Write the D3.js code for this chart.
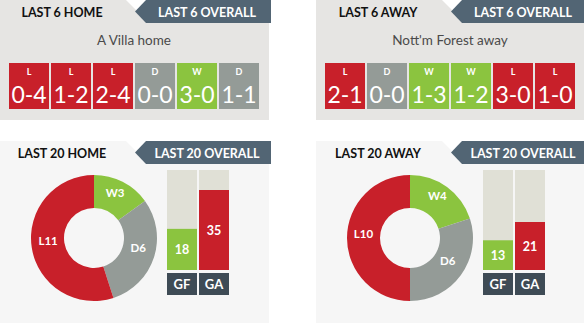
<!DOCTYPE html>
<html>
<head>
<meta charset="utf-8">
<script src="https://cdn.jsdelivr.net/npm/d3@7/dist/d3.min.js"></script>
<style>
  html, body { margin: 0; padding: 0; background: #fff; }
  svg { display: block; font-family: Lato, "Open Sans", sans-serif; }
</style>
</head>
<body>
<div id="chart"></div>
<script>

// --- data ---
var teamTitles    = ["A Villa home", "Nott'm Forest away"];
var last6Tabs     = ["LAST 6 HOME", "LAST 6 AWAY"];
var last20Tabs    = ["LAST 20 HOME", "LAST 20 AWAY"];
var homeResults   = ["L", "L", "L", "D", "W", "D"];
var homeScores    = ["0-4", "1-2", "2-4", "0-0", "3-0", "1-1"];
var awayResults   = ["L", "D", "W", "W", "L", "L"];
var awayScores    = ["2-1", "0-0", "1-3", "1-2", "3-0", "1-0"];
var outcomeKeys   = ["W", "D", "L"];
var home20        = [3, 6, 11];
var away20        = [4, 6, 10];
var goalLabels    = ["GF", "GA"];
var homeGoals     = [18, 35];
var awayGoals     = [13, 21];

var colors = { W: "#8bc43f", D: "#949b97", L: "#c8202a" };
var goalColors = { GF: "#8bc43f", GA: "#c8202a" };

var width = 584, height = 323;

var svg = d3.select("#chart").append("svg")
    .attr("width", width)
    .attr("height", height);

var panelX = [0, 316];
var panelW = 269;

var results = [homeResults, awayResults];
var scores  = [homeScores, awayScores];
var last20  = [home20, away20];
var goals   = [homeGoals, awayGoals];

var boxX = d3.scaleBand().domain(d3.range(6)).range([9, 259]).paddingInner(2 / 42);
var barX = d3.scaleBand().domain(goalLabels).range([167, 229]).paddingInner(2 / 32);
var goalMax = d3.max(goals, function(g) { return d3.max(g); }) * 1.25;
var barY = d3.scaleLinear().domain([0, goalMax]).range([270, 170]);

var pie = d3.pie().sort(null).value(function(d) { return d; });
var arc = d3.arc().innerRadius(30).outerRadius(63);

// tab header: left label, white notch, dark arrow tab
function drawTabs(g, top, bg, leftText, rightText) {
  g.append("rect").attr("x", 0).attr("y", top).attr("width", panelW).attr("height", 23).attr("fill", bg);
  g.append("polygon")
    .attr("points", [[126, top], [146, top], [146, top + 20]].join(" "))
    .attr("fill", "#fff");
  g.append("polygon")
    .attr("points", [[135, top + 11.5], [146, top], [panelW + 2, top], [panelW + 2, top + 23], [146, top + 23]].join(" "))
    .attr("fill", "#526574");
  g.append("text").attr("x", 62).attr("y", top + 16.5)
    .attr("text-anchor", "middle").attr("font-size", 12.5).attr("font-weight", 700)
    .attr("fill", "#111").text(leftText);
  g.append("text").attr("x", 207).attr("y", top + 16.5)
    .attr("text-anchor", "middle").attr("font-size", 12.5).attr("font-weight", 700)
    .attr("fill", "#fff").text(rightText);
}

panelX.forEach(function(px, i) {

  // ---- top panel: last 6 ----
  var top = svg.append("g").attr("transform", "translate(" + px + ",0)");
  top.append("rect").attr("x", 0).attr("y", 0).attr("width", panelW).attr("height", 120).attr("fill", "#e6e5e3");
  drawTabs(top, 0, "#e6e5e3", last6Tabs[i], "LAST 6 OVERALL");

  top.append("text").attr("x", 134).attr("y", 44.5)
    .attr("text-anchor", "middle").attr("font-size", 13.5)
    .attr("fill", "#4a4a4a").text(teamTitles[i]);

  var boxes = top.selectAll("g.box")
    .data(results[i].map(function(r, k) { return { r: r, s: scores[i][k], k: k }; }))
    .enter().append("g").attr("class", "box")
    .attr("transform", function(d) { return "translate(" + boxX(d.k) + ",63)"; });

  boxes.append("rect").attr("width", boxX.bandwidth()).attr("height", 46)
    .attr("fill", function(d) { return colors[d.r]; });
  boxes.append("text").attr("x", boxX.bandwidth() / 2).attr("y", 11.5)
    .attr("text-anchor", "middle").attr("font-size", 9).attr("font-weight", 700)
    .attr("fill", "#fff").text(function(d) { return d.r; });
  boxes.append("text").attr("x", boxX.bandwidth() / 2).attr("y", 39.5)
    .attr("text-anchor", "middle").attr("font-size", 23)
    .attr("fill", "#fff").text(function(d) { return d.s; });

  // ---- bottom panel: last 20 ----
  var bot = svg.append("g").attr("transform", "translate(" + px + ",0)");
  bot.append("rect").attr("x", 0).attr("y", 141).attr("width", panelW).attr("height", 182).attr("fill", "#f6f6f6");
  drawTabs(bot, 141, "#f6f6f6", last20Tabs[i], "LAST 20 OVERALL");

  var donut = bot.append("g").attr("transform", "translate(94,238)");
  var slices = pie(last20[i]);
  donut.selectAll("path").data(slices).enter().append("path")
    .attr("d", arc)
    .attr("fill", function(d, k) { return colors[outcomeKeys[k]]; });
  donut.selectAll("text").data(slices).enter().append("text")
    .attr("x", function(d) { return arc.centroid(d)[0]; })
    .attr("y", function(d) { return arc.centroid(d)[1]; })
    .attr("text-anchor", "middle").attr("font-size", 11.5).attr("font-weight", 700)
    .attr("fill", "#fff")
    .text(function(d, k) { return outcomeKeys[k] + d.data; });

  var bars = bot.selectAll("g.bar")
    .data(goalLabels.map(function(l, k) { return { l: l, v: goals[i][k] }; }))
    .enter().append("g").attr("class", "bar");

  bars.append("rect").attr("x", function(d) { return barX(d.l); })
    .attr("y", barY(goalMax)).attr("width", barX.bandwidth())
    .attr("height", barY(0) - barY(goalMax)).attr("fill", "#e0e0d6");
  bars.append("rect").attr("x", function(d) { return barX(d.l); })
    .attr("y", function(d) { return barY(d.v); }).attr("width", barX.bandwidth())
    .attr("height", function(d) { return barY(0) - barY(d.v); })
    .attr("fill", function(d) { return goalColors[d.l]; });
  bars.append("text").attr("x", function(d) { return barX(d.l) + barX.bandwidth() / 2; })
    .attr("y", function(d) { return (barY(d.v) + barY(0)) / 2 + 4.5; })
    .attr("text-anchor", "middle").attr("font-size", 12.5).attr("font-weight", 700)
    .attr("fill", "#fff").text(function(d) { return d.v; });

  bars.append("rect").attr("x", function(d) { return barX(d.l); })
    .attr("y", 273).attr("width", barX.bandwidth()).attr("height", 22)
    .attr("fill", "#3e4b55");
  bars.append("text").attr("x", function(d) { return barX(d.l) + barX.bandwidth() / 2; })
    .attr("y", 288.5)
    .attr("text-anchor", "middle").attr("font-size", 13).attr("font-weight", 700)
    .attr("fill", "#fff").text(function(d) { return d.l; });
});

</script>
</body>
</html>
